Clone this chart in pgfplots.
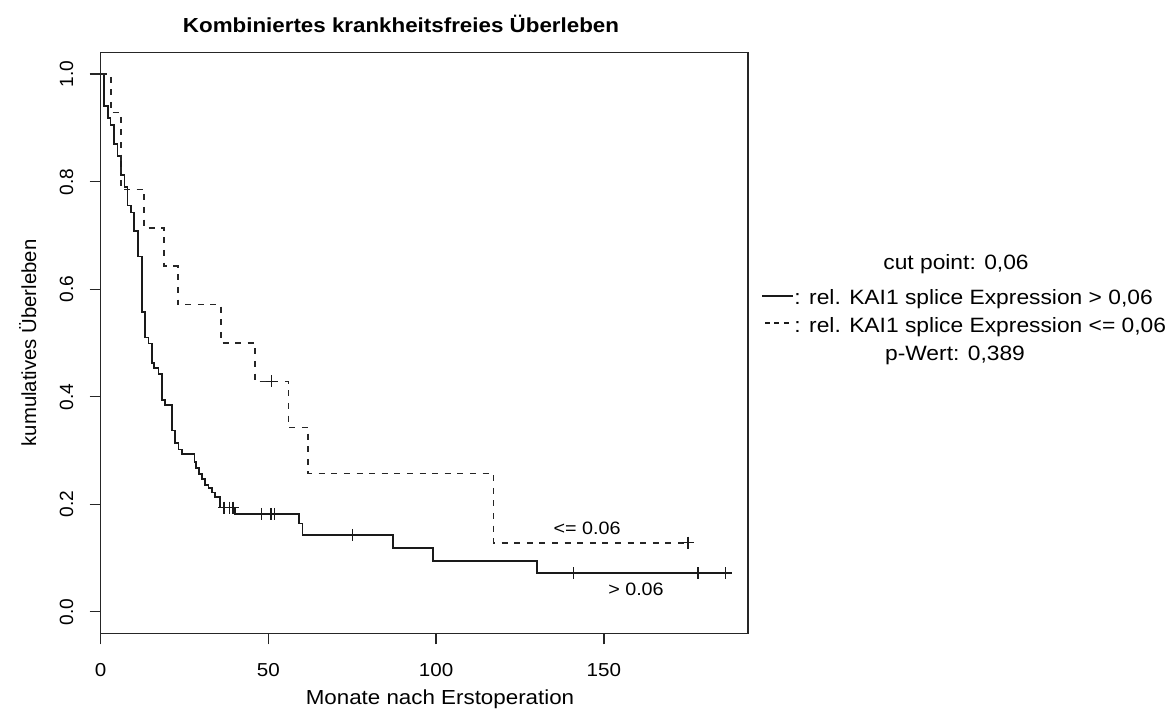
\documentclass[border=0pt]{standalone}
\usepackage{fontspec}
\setmainfont{Liberation Sans}[FakeStretch=1.1]
\newfontfamily\vfont{Liberation Sans}
\usepackage{pgfplots}
\pgfplotsset{compat=1.18}
\newcommand{\fs}[1]{\fontsize{#1}{#1}\selectfont}
\definecolor{solidc}{HTML}{1A1A1A}
\definecolor{dashc}{HTML}{262626}
\begin{document}
\begin{tikzpicture}
\begin{axis}[
  at={(0,0)}, anchor=south west,
  width=323.65bp, height=290.3bp, scale only axis,
  xmin=0, xmax=193, ymin=-0.04, ymax=1.04,
  xtick={0,50,100,150}, xticklabels={0,50,100,150},
  ytick={0,0.2,0.4,0.6,0.8,1}, yticklabels={0.0,0.2,0.4,0.6,0.8,1.0},
  xtick pos=bottom, ytick pos=left,
  tick align=outside, major tick length=5.5bp,
  axis line style={black!85, line width=0.7bp},
  every tick/.style={black!85, line width=0.7bp},
  xticklabel style={font=\fs{9.4}, anchor=north, inner sep=0pt},
  yticklabel style={font=\vfont\fs{9.6}, rotate=90, anchor=south, inner sep=0pt},
  xticklabel shift=9.5bp, yticklabel shift=8bp,
  clip=false,
]
% solid: rel. KAI1 splice Expression > 0,06
\addplot[const plot, solidc, line width=0.8bp] coordinates {
(0,1.0) (0.98,0.941) (2.09,0.918) (2.98,0.906) (3.88,0.870) (4.95,0.848)
(5.97,0.813) (7.04,0.790) (7.94,0.756) (8.95,0.743) (9.93,0.708) (11.04,0.661)
(12.23,0.558) (13.22,0.510) (14.20,0.499) (15.21,0.463) (15.90,0.453) (17.18,0.442)
(18.20,0.394) (19.18,0.385) (21.18,0.337) (22.17,0.314) (23.15,0.302) (24.16,0.293)
(27.92,0.279) (28.43,0.267) (29.24,0.256) (30.13,0.247) (31.12,0.236) (32.10,0.230)
(33.11,0.222) (34.10,0.214) (35.59,0.194) (40.07,0.182) (59.16,0.164) (60.14,0.143)
(87.1,0.119) (99.0,0.095) (130.1,0.072) (187.8,0.072)
};
\addplot[only marks, mark=+, mark size=3bp, solidc, line width=0.7bp] coordinates {
(36.8,0.194) (38.4,0.194) (39.4,0.194) (48.0,0.182) (50.8,0.182) (51.8,0.182)
(75.06,0.143) (141.0,0.072) (178.1,0.072) (186.3,0.072)
};
% dashed: rel. KAI1 splice Expression <= 0,06
\addplot[const plot, dashc, line width=0.85bp, dash pattern=on 3bp off 3.3bp] coordinates {
(0,1.0) (2.98,0.9286) (6.06,0.7857) (13.0,0.7143) (18.97,0.6429) (22.97,0.5714)
(35.9,0.5) (46.0,0.4286) (56.0,0.3429) (61.9,0.2571) (117.1,0.1286) (175.1,0.1286)
};
\addplot[only marks, mark=+, mark size=3bp, solidc, line width=0.7bp] coordinates {
(51.0,0.4286) (175.1,0.1286)
};
\node[anchor=base, font=\fs{9}, inner sep=0pt] at (axis cs:145.0,0.1447) {<= 0.06};
\node[anchor=base, font=\fs{9}, inner sep=0pt] at (axis cs:159.6,0.0302) {> 0.06};
\end{axis}
\begin{scope}[x=0.5bp, y=-0.5bp, shift={(-100.7,-633.3)}]
\path[use as bounding box] (0,0) rectangle (1166,711);
\node[anchor=base, font=\fs{10.2}\bfseries, inner sep=0pt] at (401,33) {Kombiniertes krankheitsfreies Überleben};
\node[anchor=base, font=\fs{10.2}, inner sep=0pt] at (440,704) {Monate nach Erstoperation};
\node[anchor=base, font=\vfont\fs{10.2}, inner sep=0pt, rotate=90] at (36,343) {kumulatives Überleben};
% legend block
\node[anchor=base, font=\fs{10.4}, inner sep=0pt] at (956,270) {cut point: 0,06};
\draw[solidc, line width=0.7bp] (762,296) -- (793,296);
\node[anchor=base west, font=\fs{10.4}, inner sep=0pt] at (794,305) {: rel. KAI1 splice Expression > 0,06};
\draw[solidc, line width=0.7bp, dash pattern=on 2.5bp off 2.2bp] (765,323) -- (791,323);
\node[anchor=base west, font=\fs{10.4}, inner sep=0pt] at (794,332.7) {: rel. KAI1 splice Expression <= 0,06};
\node[anchor=base, font=\fs{10.4}, inner sep=0pt] at (955,360.7) {p-Wert: 0,389};
\end{scope}
\end{tikzpicture}
\end{document}
